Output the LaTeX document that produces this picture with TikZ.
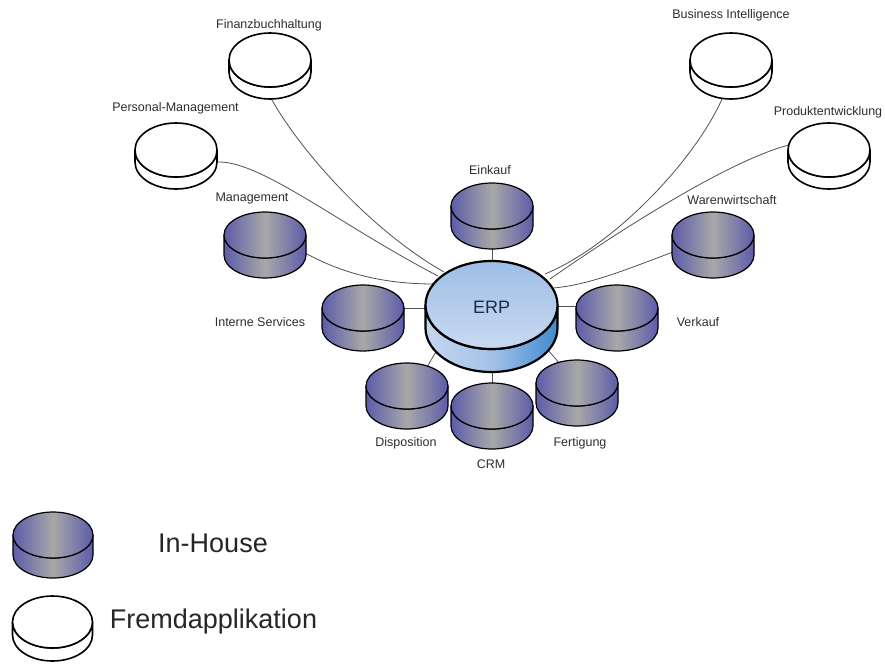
\documentclass[tikz,border=0pt]{standalone}
\usepackage{fontspec}
\setmainfont{Liberation Sans}
\definecolor{connc}{RGB}{80,80,80}
\definecolor{txtc}{RGB}{45,45,45}
\definecolor{ihA}{RGB}{92,92,170}
\definecolor{ihB}{RGB}{168,168,168}
\definecolor{erpTopA}{RGB}{158,190,230}
\definecolor{erpTopB}{RGB}{200,218,242}
\definecolor{erpSideA}{RGB}{196,214,240}
\definecolor{erpSideM}{RGB}{164,194,232}
\definecolor{erpSideB}{RGB}{62,138,208}
\definecolor{erpText}{RGB}{27,42,72}
\newcommand\diskshape[7]{% name, cx, cy, rx, ry, thickness, style prefix
  \coordinate (#1) at (#2,#3);
  \path[#7side] (#2-#4,#3) -- (#2-#4,#3+#6)
     arc[start angle=180,end angle=0,x radius=#4,y radius=#5]
     -- (#2+#4,#3)
     arc[start angle=0,end angle=180,x radius=#4,y radius=#5] -- cycle;
  \path[#7top] (#2,#3) ellipse[x radius=#4,y radius=#5];
}
\begin{document}
\begin{tikzpicture}[x=1pt,y=-1pt,
  conn/.style={draw=connc, line width=0.8pt},
  lbl/.style={text=txtc, font=\fontsize{12.5}{14}\selectfont, inner sep=0pt},
  big/.style={text=black!85, font=\fontsize{27}{30}\selectfont, inner sep=0pt},
  ihside/.style={draw=black, line width=1.2pt, left color=ihA, right color=ihA, middle color=ihB},
  ihtop/.style={draw=black, line width=1.2pt, left color=ihA, right color=ihA, middle color=ihB},
  wside/.style={draw=black, line width=1.6pt, fill=white},
  wtop/.style={draw=black, line width=1.6pt, fill=white},
  erpside/.style={draw=black, line width=2.2pt, left color=erpSideA, right color=erpSideB, middle color=erpSideM},
  erptop/.style={draw=black, line width=2.2pt, top color=erpTopA, bottom color=erpTopB},
]
\useasboundingbox (0,0) rectangle (885,664);

% connector end points
\coordinate (fin-b) at (272,100);
\coordinate (per-e) at (217,162);
\coordinate (man-e) at (305,253);
\coordinate (bi-b) at (722,99);
\coordinate (pro-w) at (789,145);
\coordinate (war-w) at (673,252);
\coordinate (ein-b) at (492,248);
\coordinate (int-e) at (403,308);
\coordinate (ver-w) at (577,306);
\coordinate (dis-t) at (427,367);
\coordinate (crm-t) at (492,385);
\coordinate (fer-t) at (560,364);
\coordinate (erp-fin) at (444,272);
\coordinate (erp-per) at (438,276);
\coordinate (erp-man) at (434,284);
\coordinate (erp-bi) at (545,274);
\coordinate (erp-pro) at (550,279);
\coordinate (erp-war) at (553,288);
\coordinate (erp-n) at (492,263);
\coordinate (erp-w) at (428,308);
\coordinate (erp-e) at (556,306);
\coordinate (erp-sw) at (437,350);
\coordinate (erp-s) at (492,370);
\coordinate (erp-se) at (548,350);

% connectors
\draw[conn] (fin-b) .. controls (300,150) and (370,230) .. (erp-fin);
\draw[conn] (per-e) .. controls (260,160) and (340,225) .. (erp-per);
\draw[conn] (man-e) .. controls (340,272) and (380,284) .. (erp-man);
\draw[conn] (bi-b) .. controls (695,160) and (615,245) .. (erp-bi);
\draw[conn] (pro-w) .. controls (730,160) and (620,230) .. (erp-pro);
\draw[conn] (war-w) .. controls (630,268) and (590,285) .. (erp-war);
\draw[conn] (ein-b) -- (erp-n);
\draw[conn] (int-e) -- (erp-w);
\draw[conn] (ver-w) -- (erp-e);
\draw[conn] (dis-t) -- (erp-sw);
\draw[conn] (crm-t) -- (erp-s);
\draw[conn] (fer-t) -- (erp-se);

% external (white) applications
\diskshape{fin}{270}{60}{41}{27}{12}{w}
\diskshape{per}{176}{150}{41}{27}{12}{w}
\diskshape{bi}{731}{60}{41}{27}{12}{w}
\diskshape{pro}{829}{150}{41}{27}{12}{w}

% in-house applications
\diskshape{ein}{492}{206}{41}{23}{20}{ih}
\diskshape{man}{265}{235}{41}{23}{20}{ih}
\diskshape{war}{713}{235}{41}{23}{20}{ih}
\diskshape{int}{363}{308}{41}{23}{20}{ih}
\diskshape{ver}{617}{308}{41}{23}{20}{ih}
\diskshape{dis}{407}{386}{41}{23}{20}{ih}
\diskshape{fer}{577}{383}{41}{23}{20}{ih}
\diskshape{crm}{492}{406}{41}{23}{20}{ih}

% ERP
\diskshape{erp}{491.5}{305}{66}{44}{23}{erp}
\node[text=erpText, font=\fontsize{18}{20}\selectfont, inner sep=0pt] (erp-l) at (491.5,307) {ERP};

% labels
\node[lbl] (fin-l) at (269,25) {Finanzbuchhaltung};
\node[lbl] (per-l) at (175.5,108) {Personal-Management};
\node[lbl] (man-l) at (252,198) {Management};
\node[lbl] (bi-l) at (731,15) {Business Intelligence};
\node[lbl] (pro-l) at (828,112) {Produktentwicklung};
\node[lbl] (war-l) at (732,200) {Warenwirtschaft};
\node[lbl] (ein-l) at (490,170) {Einkauf};
\node[lbl] (int-l) at (260,322) {Interne Services};
\node[lbl] (ver-l) at (698,322) {Verkauf};
\node[lbl] (dis-l) at (406,443) {Disposition};
\node[lbl] (crm-l) at (491,464) {CRM};
\node[lbl] (fer-l) at (580,443) {Fertigung};

% legend
\diskshape{leg-ih}{53}{535}{40}{23}{20}{ih}
\diskshape{leg-w}{52.5}{622}{40}{26}{13}{w}
\node[big] (leg-ih-l) at (213,543) {In-House};
\node[big] (leg-w-l) at (213.5,622) {Fremdapplikation};
\end{tikzpicture}
\end{document}
